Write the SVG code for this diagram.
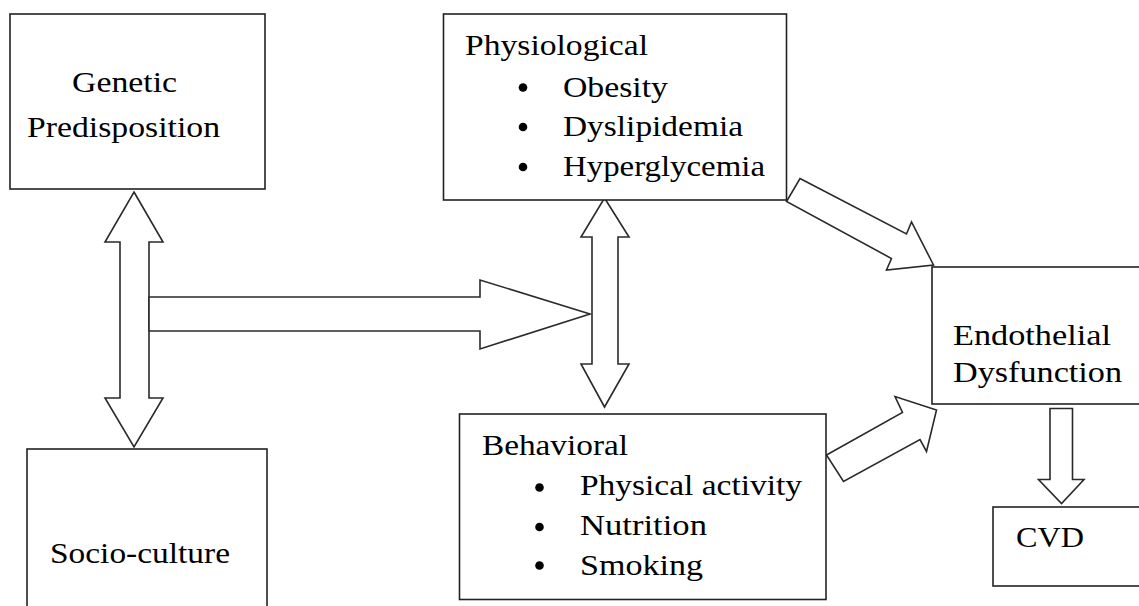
<svg xmlns="http://www.w3.org/2000/svg" width="1139" height="606" viewBox="0 0 1139 606">
<style>
.box{fill:#fff;stroke:#222;stroke-width:1.6}
.arr{fill:#fff;stroke:#2a2a2a;stroke-width:1.6;stroke-linejoin:miter}
text{font-family:'Liberation Serif',serif;font-size:30px;fill:#000}
.b{fill:#000}
</style>
<rect width="1139" height="606" fill="#fff"/>
<g id="connectors">
<path class="arr" d="M134,192 L163,242 L149,242 L149,398 L163,398 L134,447 L105,398 L120,398 L120,242 L105,242 Z"/>
<path class="arr" d="M149,297 L480,297 L480,280 L590,314 L480,349 L480,331 L149,331 Z"/>
<path class="arr" d="M604.5,198 L629,237 L618,237 L618,364 L629,364 L604.5,407 L581,364 L592,364 L592,237 L581,237 Z"/>
<path class="arr" d="M800,178.5 L906.5,234 L911.5,222 L933.5,265 L886.5,270 L891.5,258.5 L786.5,201.5 Z"/>
<path class="arr" d="M826.5,455 L902.5,412.5 L895,396.5 L936.5,410 L926.5,451.5 L920,439.5 L843.5,481.5 Z"/>
<path class="arr" d="M1050,408.5 L1072.5,408.5 L1072.5,479.5 L1084,479.5 L1061.5,503.5 L1038.5,479.5 L1050,479.5 Z"/>
</g>
<g id="genetic">
<rect class="box" x="10" y="14" width="255" height="175"/>
<text x="72" y="92" textLength="105" lengthAdjust="spacingAndGlyphs">Genetic</text>
<text x="27" y="137" textLength="193" lengthAdjust="spacingAndGlyphs">Predisposition</text>
</g>
<g id="socio">
<rect class="box" x="27" y="449" width="240" height="170"/>
<text x="50" y="563" textLength="180" lengthAdjust="spacingAndGlyphs">Socio-culture</text>
</g>
<g id="physiological">
<rect class="box" x="443.5" y="14" width="343" height="186"/>
<text x="465" y="55" textLength="183" lengthAdjust="spacingAndGlyphs">Physiological</text>
<circle class="b" cx="523" cy="87.5" r="4.3"/>
<circle class="b" cx="523" cy="127" r="4.3"/>
<circle class="b" cx="523" cy="167" r="4.3"/>
<text x="563" y="97" textLength="105" lengthAdjust="spacingAndGlyphs">Obesity</text>
<text x="563" y="136" textLength="180" lengthAdjust="spacingAndGlyphs">Dyslipidemia</text>
<text x="563" y="176" textLength="202" lengthAdjust="spacingAndGlyphs">Hyperglycemia</text>
</g>
<g id="behavioral">
<rect class="box" x="459.5" y="414" width="366.5" height="185.5"/>
<text x="482" y="455" textLength="146" lengthAdjust="spacingAndGlyphs">Behavioral</text>
<circle class="b" cx="539.5" cy="487.5" r="4.3"/>
<circle class="b" cx="539.5" cy="527" r="4.3"/>
<circle class="b" cx="539.5" cy="565.5" r="4.3"/>
<text x="580" y="495" textLength="222" lengthAdjust="spacingAndGlyphs">Physical activity</text>
<text x="580" y="535" textLength="127" lengthAdjust="spacingAndGlyphs">Nutrition</text>
<text x="580" y="575" textLength="123" lengthAdjust="spacingAndGlyphs">Smoking</text>
</g>
<g id="endothelial">
<rect class="box" x="932" y="267" width="220" height="137"/>
<text x="953" y="345" textLength="158" lengthAdjust="spacingAndGlyphs">Endothelial</text>
<text x="953" y="382" textLength="169" lengthAdjust="spacingAndGlyphs">Dysfunction</text>
</g>
<g id="cvd">
<rect class="box" x="993" y="507" width="160" height="79"/>
<text x="1016" y="547" textLength="68" lengthAdjust="spacingAndGlyphs">CVD</text>
</g>
</svg>
